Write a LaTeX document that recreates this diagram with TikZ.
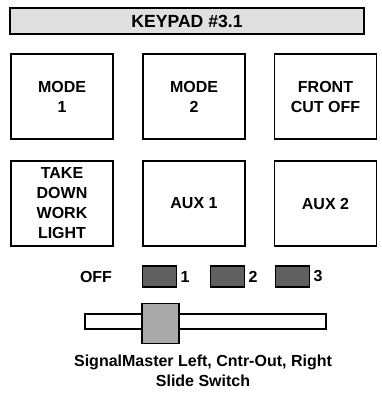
\documentclass[tikz,border=0pt]{standalone}
\usepackage{fontspec}
\setmainfont{Liberation Sans}
\begin{document}
\begin{tikzpicture}[x=1pt,y=-1pt,
  every node/.style={font=\fontsize{16}{20}\selectfont\bfseries, text=black},
  keybox/.style={draw=black, line width=1.7pt, fill=white, minimum width=102pt, minimum height=85pt, inner sep=0pt, align=center},
  ledbox/.style={draw=black, line width=1.6pt, fill=ledgray, minimum width=34pt, minimum height=21pt, inner sep=0pt},
  ledlabel/.style={anchor=west, inner sep=0pt, xshift=3pt}
]
\definecolor{titlegray}{HTML}{E0E0E0}
\definecolor{ledgray}{HTML}{606060}
\definecolor{knobgray}{HTML}{AAAAAA}
\useasboundingbox (0,0) rectangle (381,393);
% title
\node[draw=black, line width=1.7pt, fill=titlegray, minimum width=354pt, minimum height=26pt, inner sep=0pt,
  font=\fontsize{17.6}{20}\selectfont\bfseries] (title) at (187,21) {KEYPAD \#3.1};
% row 1
\node[keybox] (m1) at (62,96.5) {MODE\\1};
\node[keybox] (m2) at (194,96.5) {MODE\\2};
\node[keybox] (fc) at (325.5,96.5) {FRONT\\CUT OFF};
% row 2
\node[keybox] (tk) at (62,203.5) {TAKE\\DOWN\\WORK\\LIGHT};
\node[keybox] (a1) at (194,203.5) {AUX 1};
\node[keybox] (a2) at (325.5,203.5) {AUX 2};
% indicators
\node (off) at (96,277) {OFF};
\node[ledbox] (l1) at (159.5,276.5) {};
\node[ledbox] (l2) at (227.5,276.5) {};
\node[ledbox] (l3) at (292.5,276.5) {};
\node[ledlabel] (t1) at (l1.east) {1};
\node[ledlabel] (t2) at (l2.east) {2};
\node[ledlabel] (t3) at (l3.east) {3};
% slider
\node[draw=black, line width=1.2pt, fill=white, minimum width=241pt, minimum height=15pt, inner sep=0pt] (track) at (205.5,321.5) {};
\node[draw=black, line width=1.7pt, fill=knobgray, minimum width=37pt, minimum height=40pt, inner sep=0pt] (knob) at (160.5,323.5) {};
% caption
\node[align=center] (cap) at (203,371) {SignalMaster Left, Cntr-Out, Right\\Slide Switch};
\end{tikzpicture}
\end{document}
